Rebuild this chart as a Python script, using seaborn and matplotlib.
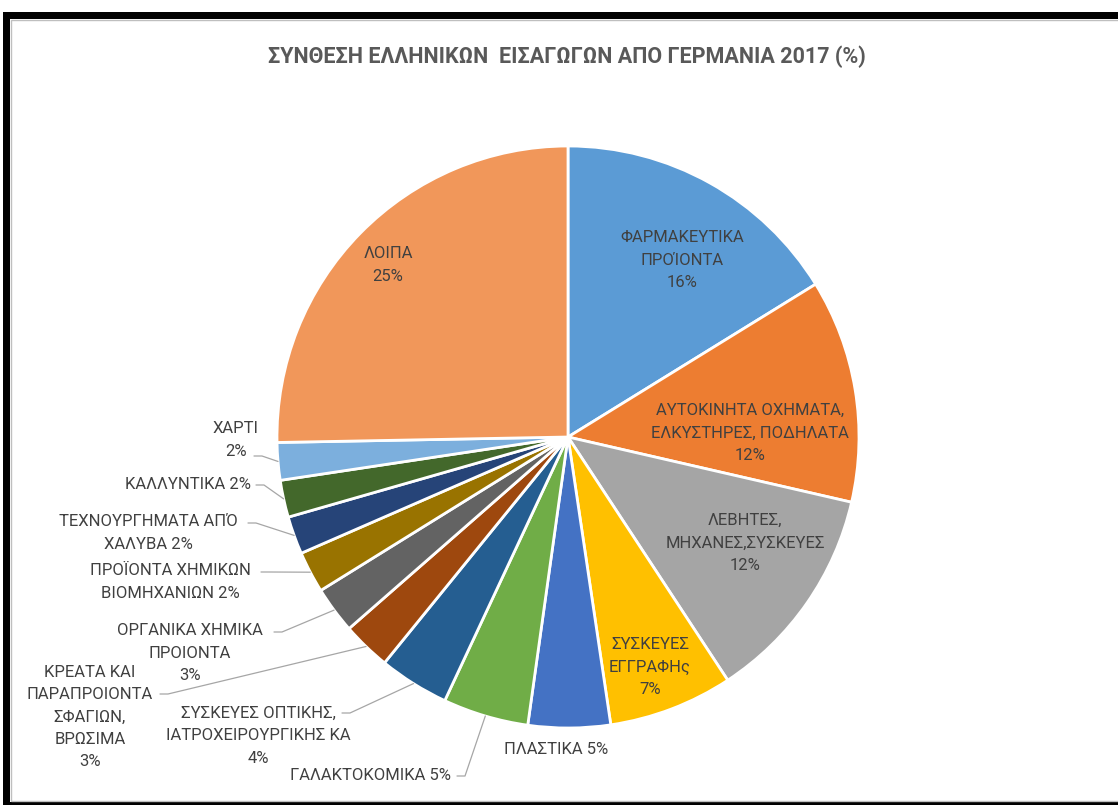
import numpy as np
import seaborn as sns
import matplotlib.pyplot as plt
from matplotlib.patches import Rectangle

# share of German imports into Greece, 2017 (% of total), clockwise from 12 o'clock
categories = [
    "ΦΑΡΜΑΚΕΥΤΙΚΑ\nΠΡΟΊΟΝΤΑ\n{:.0f}%",
    "ΑΥΤΟΚΙΝΗΤΑ ΟΧΗΜΑΤΑ,\nΕΛΚΥΣΤΗΡΕΣ, ΠΟΔΗΛΑΤΑ\n{:.0f}%",
    "ΛΕΒΗΤΕΣ,\nΜΗΧΑΝΕΣ,ΣΥΣΚΕΥΕΣ\n{:.0f}%",
    "ΣΥΣΚΕΥΕΣ\nΕΓΓΡΑΦΗς\n{:.0f}%",
    "ΠΛΑΣΤΙΚΑ {:.0f}%",
    "ΓΑΛΑΚΤΟΚΟΜΙΚΑ {:.0f}%",
    "ΣΥΣΚΕΥΕΣ ΟΠΤΙΚΗΣ,\nΙΑΤΡΟΧΕΙΡΟΥΡΓΙΚΗΣ ΚΑ\n{:.0f}%",
    "ΚΡΕΑΤΑ ΚΑΙ\nΠΑΡΑΠΡΟΙΟΝΤΑ\nΣΦΑΓΙΩΝ,\nΒΡΩΣΙΜΑ\n{:.0f}%",
    "ΟΡΓΑΝΙΚΑ ΧΗΜΙΚΑ\nΠΡΟΙΟΝΤΑ\n{:.0f}%",
    "ΠΡΟΪΟΝΤΑ ΧΗΜΙΚΩΝ\nΒΙΟΜΗΧΑΝΙΩΝ {:.0f}%",
    "ΤΕΧΝΟΥΡΓΗΜΑΤΑ ΑΠΌ\nΧΑΛΥΒΑ {:.0f}%",
    "ΚΑΛΛΥΝΤΙΚΑ {:.0f}%",
    "ΧΑΡΤΙ\n{:.0f}%",
    "ΛΟΙΠΑ\n{:.0f}%",
]
shares = [16.2, 12.4, 12.15, 6.9, 4.56, 4.75, 3.9, 2.7, 2.6, 2.3, 2.1, 2.06, 2.08, 25.3]
slice_colors = ["#5B9BD5", "#ED7D31", "#A5A5A5", "#FFC000", "#4472C4", "#70AD47", "#255E91",
                "#9E480E", "#636363", "#997300", "#264478", "#43682B", "#7CAFDD", "#F1975A"]

title = "ΣΥΝΘΕΣΗ ΕΛΛΗΝΙΚΩΝ  ΕΙΣΑΓΩΓΩΝ ΑΠΟ ΓΕΡΜΑΝΙΑ 2017 (%)"

# label layout in pixels: (x, y, leader start or None)
label_pos = [
    (682, 260, None), (750, 433, None), (745, 543, None), (650, 667, None),
    (556, 750, None), (370, 775, (457, 776)), (258, 736, (342, 713)),
    (90, 717, (160, 694)), (190, 653, (274, 632)), (170, 582, (261, 572)),
    (148, 533, (248, 523)), (188, 484, (256, 485)), (236, 440, (254, 456)),
    (388, 265, None),
]

sns.set_theme(style="white")
plt.rcParams['font.family'] = ['Roboto', 'DejaVu Sans']
palette = sns.color_palette(slice_colors)

W, H = 1118, 805
cx, cy, R = 568, 437, 291
fig = plt.figure(figsize=(W / 100, H / 100), dpi=100)
ax = fig.add_axes([(cx - R) / W, (H - cy - R) / H, 2 * R / W, 2 * R / H])

wedges, _ = ax.pie(shares, colors=palette, startangle=90, counterclock=False, radius=1,
                   wedgeprops=dict(edgecolor="white", linewidth=2))
ax.set_xlim(-1, 1)
ax.set_ylim(-1, 1)
ax.set_aspect("equal")
ax.axis("off")


def to_data(x, y):
    return (x - cx) / R, (cy - y) / R


txt_color = "#404040"
for w, tmpl, val, (lx, ly, lead) in zip(wedges, categories, shares, label_pos):
    tx, ty = to_data(lx, ly)
    ax.text(tx, ty, tmpl.format(val), ha="center", va="center", multialignment="center",
            fontsize=12, color=txt_color, linespacing=1.62, clip_on=False)
    if lead is not None:
        mid = np.deg2rad((w.theta1 + w.theta2) / 2)
        ex, ey = np.cos(mid), np.sin(mid)
        sx, sy = to_data(*lead)
        kx = sx + 8 / R
        ax.plot([sx, kx, ex], [sy, sy, ey], color="#a6a6a6", lw=0.9, clip_on=False)

fig.text(567 / W, 1 - 57 / H, title, ha="center", va="center", fontsize=15.5,
         fontweight="bold", color="#595959")

# frame around the chart
fig.add_artist(Rectangle((3 / W, 1 - 19 / H), 1, 7 / H, transform=fig.transFigure,
                         color="black", lw=0))
fig.add_artist(Rectangle((3 / W, 0), 7 / W, 1 - 12 / H, transform=fig.transFigure,
                         color="black", lw=0))
fig.add_artist(Rectangle((3 / W, 0), 1, 3 / H, transform=fig.transFigure,
                         color="black", lw=0))
fig.add_artist(Rectangle((11 / W, 4 / H), 1, 1 - 24 / H, transform=fig.transFigure,
                         fill=False, edgecolor="#bfbfbf", lw=1))

fig.savefig("out.png", dpi=100, facecolor="white")
